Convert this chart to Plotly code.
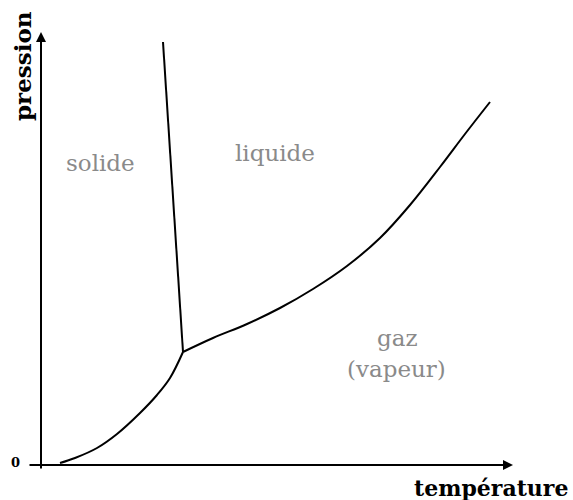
import plotly.graph_objects as go

# Data (temperature / pressure in arbitrary units, origin at the axes corner)
sub_T = [19, 34, 56, 76, 99, 116, 129, 142]
sub_P = [2, 7, 17, 31, 52, 70, 87, 113]

fus_T = [142, 132, 122]
fus_P = [113, 265, 423]

vap_T = [142, 172, 206, 239, 272, 306, 339, 369, 399, 424, 449]
vap_P = [113, 127, 141, 157, 176, 199, 227, 260, 298, 331, 363]

region_labels = ["solide", "liquide", "gaz", "(vapeur)"]
region_T = [59, 234, 356, 355]
region_P = [302, 312, 127, 96]

x_title = "température"
y_title = "pression"
zero_label = "0"

fig = go.Figure()
line_style = dict(color="black", width=2, shape="spline", smoothing=1.0)
fig.add_trace(go.Scatter(x=sub_T, y=sub_P, mode="lines", line=line_style, hoverinfo="skip"))
fig.add_trace(go.Scatter(x=fus_T, y=fus_P, mode="lines", line=dict(color="black", width=2), hoverinfo="skip"))
fig.add_trace(go.Scatter(x=vap_T, y=vap_P, mode="lines", line=line_style, hoverinfo="skip"))

# axes with arrows
fig.add_annotation(x=0, y=433, ax=0, ay=-5, xref="x", yref="y", axref="x", ayref="y",
                   showarrow=True, arrowhead=2, arrowsize=1, arrowwidth=2, arrowcolor="black", text="")
fig.add_annotation(x=472, y=0, ax=-13, ay=0, xref="x", yref="y", axref="x", ayref="y",
                   showarrow=True, arrowhead=2, arrowsize=1, arrowwidth=2, arrowcolor="black", text="")

for t, x, y in zip(region_labels, region_T, region_P):
    fig.add_annotation(x=x, y=y, text=t, showarrow=False,
                       font=dict(family="DejaVu Serif", size=23, color="#8a8a8a"))

fig.add_annotation(x=450, y=-23, text=x_title, showarrow=False,
                   font=dict(family="DejaVu Serif", size=22, color="black", weight="bold"))
fig.add_annotation(x=-19, y=399, text=y_title, showarrow=False, textangle=-90,
                   font=dict(family="DejaVu Serif", size=23, color="black", weight="bold"))
fig.add_annotation(x=-26, y=3, text=zero_label, showarrow=False,
                   font=dict(family="DejaVu Serif", size=13, color="black", weight="bold"))

fig.update_layout(
    width=573, height=500,
    margin=dict(l=0, r=0, t=0, b=0),
    paper_bgcolor="white", plot_bgcolor="white",
    showlegend=False,
    xaxis=dict(range=[-41, 532], visible=False, fixedrange=True),
    yaxis=dict(range=[-35, 465], visible=False, fixedrange=True),
)

fig.write_html("out.html", config={"displayModeBar": False},
               post_script="document.body.style.margin='0';")
